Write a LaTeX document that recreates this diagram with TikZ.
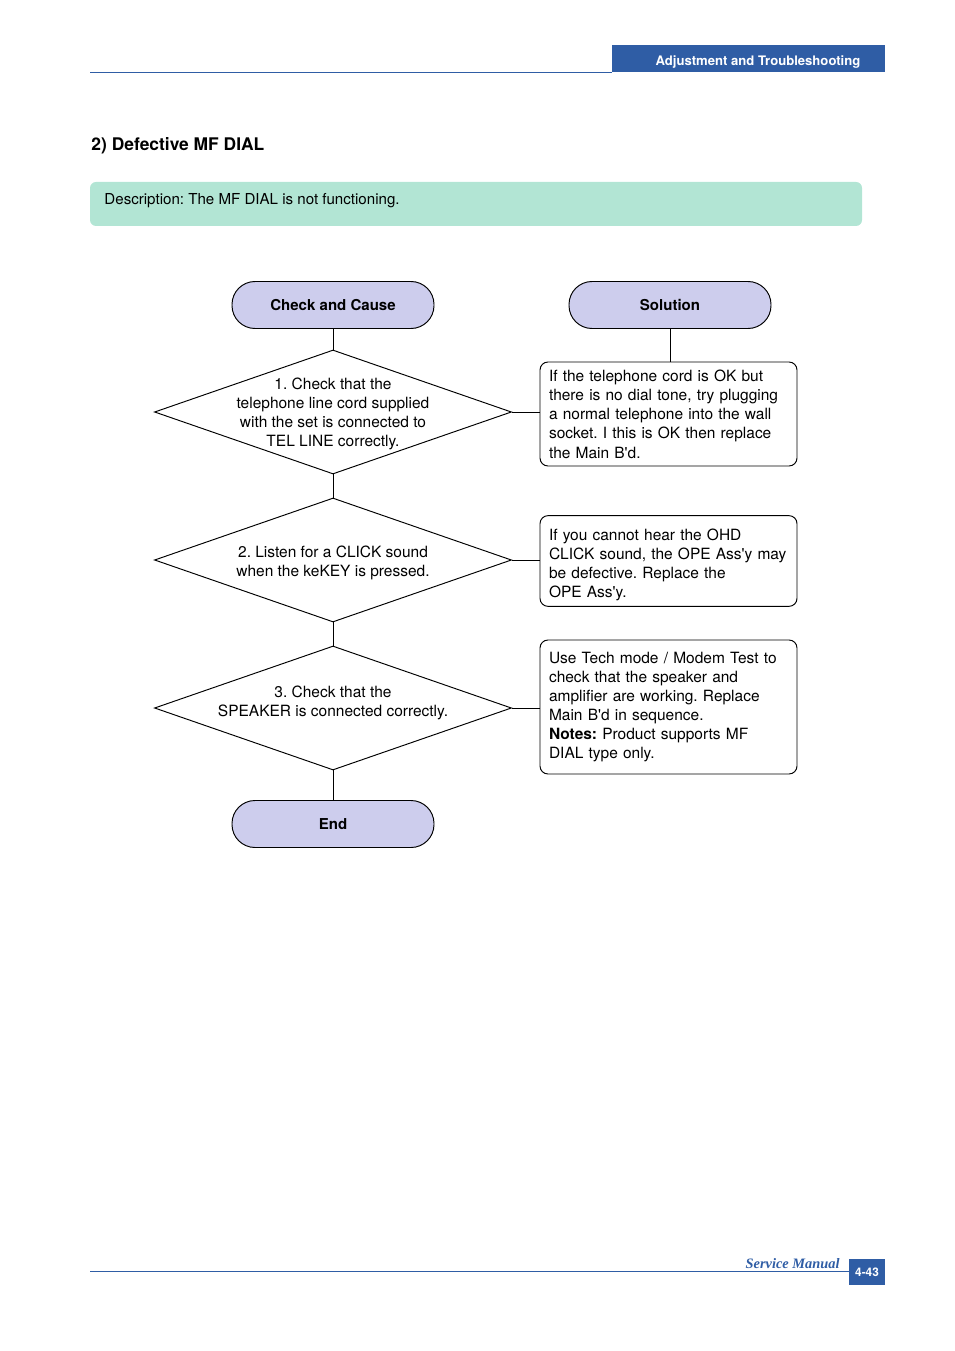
\documentclass[tikz,border=0pt]{standalone}
\usepackage{fontspec}
\setmainfont{TeX Gyre Heros}[Ligatures=TeXOff]
\newfontfamily\footfont{Liberation Serif}
\usetikzlibrary{shapes.geometric}
\definecolor{headblue}{HTML}{2F5DA5}
\definecolor{descgreen}{HTML}{B2E5D4}
\definecolor{termfill}{HTML}{CDCDED}
\newcommand\pxu{0.22mm}
\frenchspacing
\begin{document}
\begin{tikzpicture}[x=0.22mm,y=-0.22mm,line width=0.6pt,
	txt/.style={font=\fontsize{9.7}{12}\selectfont},
	term/.style={draw,fill=termfill,rounded corners=23*\pxu,minimum width=202*\pxu,minimum height=47*\pxu,font=\fontsize{9.4}{12}\selectfont\bfseries},
	diam/.style={draw,diamond,inner sep=0pt,minimum width=357*\pxu,minimum height=124*\pxu},
	solbox/.style={draw,rounded corners=8*\pxu,text width=239*\pxu,inner xsep=9*\pxu,align=left,txt}]
	\useasboundingbox (0,0) rectangle (954,1351);
	% header
	\fill[headblue] (612,45) rectangle (885,72);
	\draw[headblue] (90,72) -- (612,72);
	\node[white,font=\fontsize{8.2}{10}\selectfont\bfseries] (head) at (758,62) {Adjustment and Troubleshooting};
	\node[anchor=base west,inner sep=0pt,font=\fontsize{10.9}{14}\selectfont\bfseries] (title) at (91,151) {2) Defective MF DIAL};
	\fill[descgreen,rounded corners=6*\pxu] (90,182) rectangle (862,226);
	\node[anchor=base west,inner sep=0pt,font=\fontsize{9.45}{12}\selectfont] (desc) at (104,205) {Description: The MF DIAL is not functioning.};
	% flow chart
	\node[term] (check) at (333,305) {Check and Cause};
	\node[term] (sol) at (670,305) {Solution};
	\node[diam] (q1) at (333,412) {};
	\node[diam] (q2) at (333,560) {};
	\node[diam] (q3) at (333,708) {};
	\node[align=center,txt] (t1) at ([yshift=-2*\pxu]q1) {1. Check that the\\telephone line cord supplied\\with the set is connected to\\TEL LINE correctly.};
	\node[align=center,txt] (t2) at ([yshift=-3*\pxu]q2) {2. Listen for a CLICK sound\\when the keKEY is pressed.};
	\node[align=center,txt] (t3) at ([yshift=5*\pxu]q3) {3. Check that the\\SPEAKER is connected correctly.};
	\node[term] (end) at (333,824) {End};
	\node[solbox,minimum height=104*\pxu] (s1) at (668.5,414) {If the telephone cord is OK but\\there is no dial tone, try plugging\\a normal telephone into the wall\\socket. I this is OK then replace\\the Main B'd.};
	\node[solbox,minimum height=90*\pxu] (s2) at (668.5,561) {\rule{0pt}{12pt}If you cannot hear the OHD\\CLICK sound, the OPE Ass'y may\\be defective. Replace the\\OPE Ass'y.};
	\node[solbox,minimum height=134*\pxu] (s3) at (668.5,707) {Use Tech mode / Modem Test to\\check that the speaker and\\amplifier are working. Replace\\Main B'd in sequence.\\\textbf{Notes:} Product supports MF\\DIAL type only.};
	\draw (check) -- (q1);
	\draw (q1) -- (q2);
	\draw (q2) -- (q3);
	\draw (q3) -- (end);
	\draw (sol) -- (sol|-s1.north);
	\draw (q1.east) -- (q1.east-|s1.west);
	\draw (q2.east) -- (q2.east-|s2.west);
	\draw (q3.east) -- (q3.east-|s3.west);
	% footer
	\draw[headblue] (90,1271) -- (849,1271);
	\node[anchor=base east,inner sep=0pt,headblue,font=\footfont\fontsize{9}{10}\selectfont\bfseries\itshape] (manual) at (840,1268) {Service Manual};
	\fill[headblue] (849,1259) rectangle (885,1285);
	\node[white,font=\fontsize{7.4}{9}\selectfont\bfseries] (page) at (867,1272) {4-43};
\end{tikzpicture}
\end{document}
